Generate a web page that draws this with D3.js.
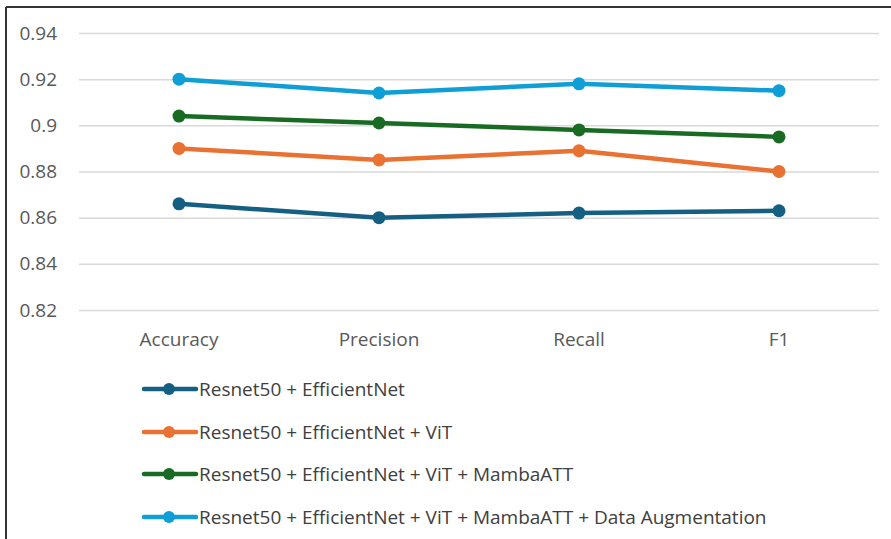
<!DOCTYPE html>
<html><head><meta charset="utf-8">
<script src="https://cdn.jsdelivr.net/npm/d3@7"></script>
<style>html,body{margin:0;padding:0;background:#fff;}svg{display:block;}</style>
</head><body>
<script>
const categories = ["Accuracy", "Precision", "Recall", "F1"];
const seriesNames = [
  "Resnet50 + EfficientNet",
  "Resnet50 + EfficientNet + ViT",
  "Resnet50 + EfficientNet + ViT + MambaATT",
  "Resnet50 + EfficientNet + ViT + MambaATT + Data Augmentation"
];
const resnetEff = [0.866, 0.860, 0.862, 0.863];
const resnetEffVit = [0.890, 0.885, 0.889, 0.880];
const resnetEffVitMamba = [0.904, 0.901, 0.898, 0.895];
const resnetEffVitMambaAug = [0.920, 0.914, 0.918, 0.915];
const yTicks = [0.82, 0.84, 0.86, 0.88, 0.9, 0.92, 0.94];
const yTickLabels = ["0.82", "0.84", "0.86", "0.88", "0.9", "0.92", "0.94"];
const colors = ["#156082", "#E97132", "#196B24", "#0F9ED5"];

const series = [resnetEff, resnetEffVit, resnetEffVitMamba, resnetEffVitMambaAug];

const W = 891, H = 539;
const svg = d3.select("body").append("svg").attr("width", W).attr("height", H);
const font = "'Open Sans', 'Noto Sans', sans-serif";

// frame (top and left edges)
svg.append("line").attr("x1", 6).attr("x2", W).attr("y1", 7).attr("y2", 7).attr("stroke", "#333").attr("stroke-width", 2);
svg.append("line").attr("x1", 6).attr("x2", 6).attr("y1", 7).attr("y2", H).attr("stroke", "#333").attr("stroke-width", 2);

const x = d3.scaleBand().domain(categories).range([79, 879]);
const y = d3.scaleLinear().domain([0.82, 0.94]).range([310, 33]);

// gridlines
const yAxis = d3.axisLeft(y).tickValues(yTicks).tickSize(-(879 - 79)).tickFormat((d, i) => yTickLabels[i]);
const gy = svg.append("g").attr("transform", "translate(79,0)").call(yAxis);
gy.select(".domain").remove();
gy.selectAll(".tick line").attr("stroke", "#d9d9d9").attr("stroke-width", 1.5);
gy.selectAll(".tick text").attr("x", -22).attr("fill", "#595959").attr("font-size", 19).attr("font-family", font);

// x axis labels
const xAxis = d3.axisBottom(x).tickSize(0);
const gx = svg.append("g").attr("transform", "translate(0,329)").call(xAxis);
gx.select(".domain").remove();
gx.selectAll(".tick text").attr("fill", "#595959").attr("font-size", 19).attr("font-family", font).attr("dy", "0.71em");

const cx = c => x(c) + x.bandwidth() / 2;
const line = d3.line().x((d, i) => cx(categories[i])).y(d => y(d));

series.forEach((s, k) => {
  svg.append("path").attr("d", line(s)).attr("fill", "none").attr("stroke", colors[k]).attr("stroke-width", 4.5).attr("stroke-linejoin", "round");
  svg.selectAll(null).data(s).enter().append("circle")
    .attr("cx", (d, i) => cx(categories[i])).attr("cy", d => y(d)).attr("r", 6.5).attr("fill", colors[k]);
});

// legend
const legY = [389, 432, 474, 517];
seriesNames.forEach((n, k) => {
  const g = svg.append("g").attr("transform", `translate(0,${legY[k]})`);
  g.append("line").attr("x1", 144).attr("x2", 196).attr("y1", 0).attr("y2", 0).attr("stroke", colors[k]).attr("stroke-width", 4.5).attr("stroke-linecap", "round");
  g.append("circle").attr("cx", 169).attr("cy", 0).attr("r", 6).attr("fill", colors[k]);
  g.append("text").attr("x", 199).attr("y", 0).attr("dy", "0.35em").attr("fill", "#404040").attr("font-size", 19).attr("font-family", font).text(n);
});
</script>
</body></html>
